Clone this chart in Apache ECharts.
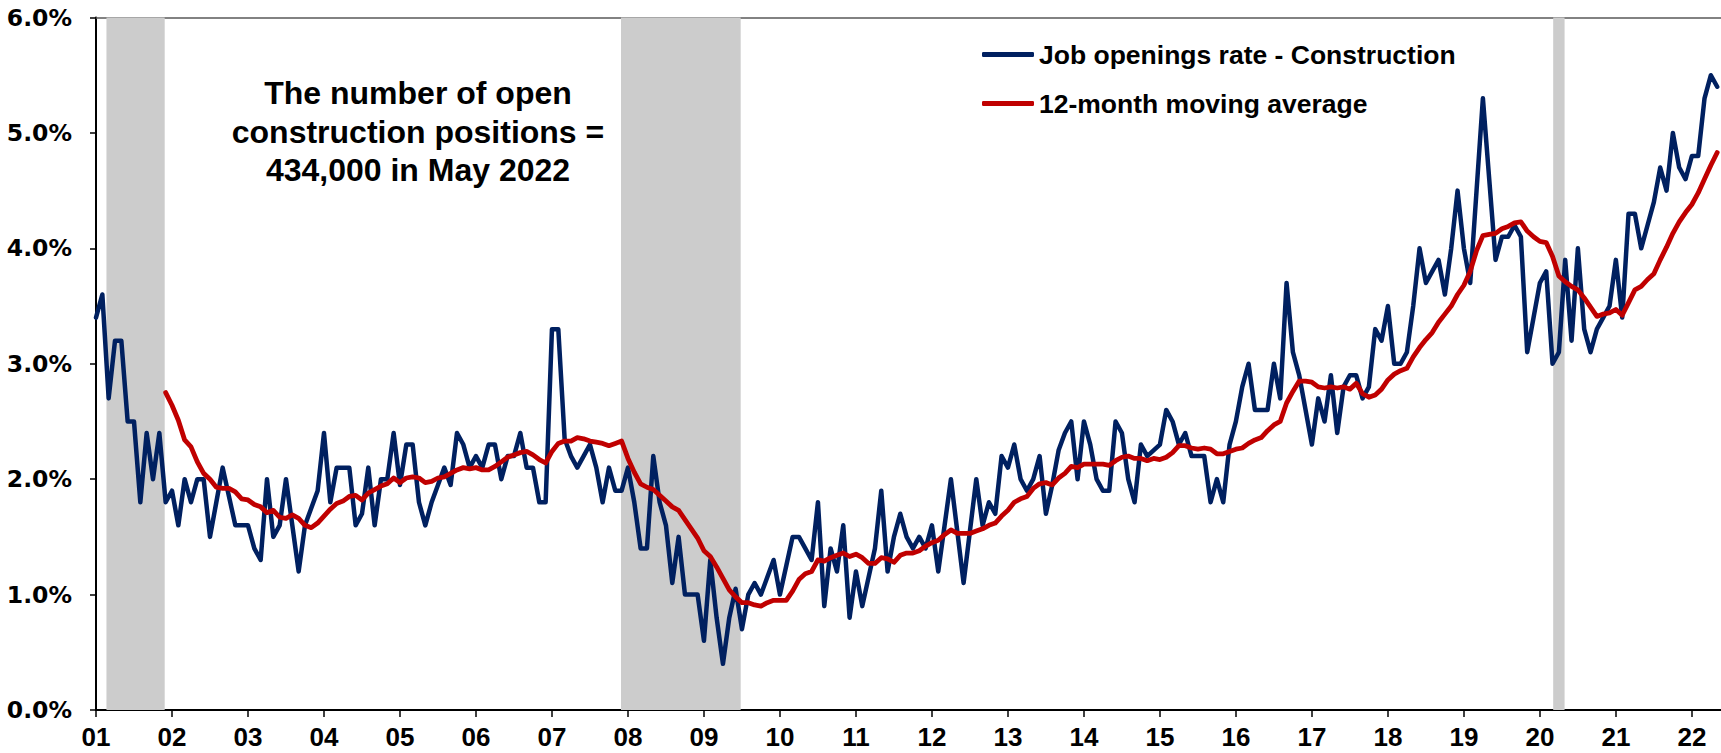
<!DOCTYPE html>
<html>
<head>
<meta charset="utf-8">
<script src="https://cdn.jsdelivr.net/npm/echarts@6/dist/echarts.min.js"></script>
<style>
  html, body { margin: 0; padding: 0; background: #ffffff; }
  #chart { width: 1721px; height: 753px; }
</style>
</head>
<body>
<div id="chart"></div>
<script>
// Year tick labels (one per January, starting Jan 2001 = month index 0)
const yearLabels = ['01','02','03','04','05','06','07','08','09','10','11','12','13','14','15','16','17','18','19','20','21','22'];

// Job openings rate - Construction (%), monthly Jan 2001 .. May 2022
const jobOpenings = [
  3.4, 3.6, 2.7, 3.2, 3.2, 2.5, 2.5, 1.8, 2.4, 2.0, 2.4, 1.8,          // 2001
  1.9, 1.6, 2.0, 1.8, 2.0, 2.0, 1.5, 1.8, 2.1, 1.85, 1.6, 1.6,        // 2002
  1.6, 1.4, 1.3, 2.0, 1.5, 1.6, 2.0, 1.6, 1.2, 1.6, 1.75, 1.9,        // 2003
  2.4, 1.8, 2.1, 2.1, 2.1, 1.6, 1.7, 2.1, 1.6, 2.0, 2.0, 2.4,         // 2004
  1.95, 2.3, 2.3, 1.8, 1.6, 1.8, 1.95, 2.1, 1.95, 2.4, 2.3, 2.1,      // 2005
  2.2, 2.1, 2.3, 2.3, 2.0, 2.2, 2.2, 2.4, 2.1, 2.1, 1.8, 1.8,         // 2006
  3.3, 3.3, 2.35, 2.2, 2.1, 2.2, 2.3, 2.1, 1.8, 2.1, 1.9, 1.9,        // 2007
  2.1, 1.8, 1.4, 1.4, 2.2, 1.8, 1.6, 1.1, 1.5, 1.0, 1.0, 1.0,         // 2008
  0.6, 1.3, 0.8, 0.4, 0.8, 1.05, 0.7, 1.0, 1.1, 1.0, 1.15, 1.3,       // 2009
  1.0, 1.25, 1.5, 1.5, 1.4, 1.3, 1.8, 0.9, 1.4, 1.2, 1.6, 0.8,        // 2010
  1.2, 0.9, 1.15, 1.4, 1.9, 1.2, 1.5, 1.7, 1.5, 1.4, 1.5, 1.4,        // 2011
  1.6, 1.2, 1.6, 2.0, 1.55, 1.1, 1.55, 2.0, 1.6, 1.8, 1.7, 2.2,       // 2012
  2.1, 2.3, 2.0, 1.9, 2.0, 2.2, 1.7, 1.95, 2.25, 2.4, 2.5, 2.0,       // 2013
  2.5, 2.3, 2.0, 1.9, 1.9, 2.5, 2.4, 2.0, 1.8, 2.3, 2.2, 2.25,        // 2014
  2.3, 2.6, 2.5, 2.3, 2.4, 2.2, 2.2, 2.2, 1.8, 2.0, 1.8, 2.3,         // 2015
  2.5, 2.8, 3.0, 2.6, 2.6, 2.6, 3.0, 2.7, 3.7, 3.1, 2.9, 2.6,         // 2016
  2.3, 2.7, 2.5, 2.9, 2.4, 2.8, 2.9, 2.9, 2.7, 2.8, 3.3, 3.2,         // 2017
  3.5, 3.0, 3.0, 3.1, 3.5, 4.0, 3.7, 3.8, 3.9, 3.6, 4.0, 4.5,         // 2018
  4.0, 3.7, 4.5, 5.3, 4.6, 3.9, 4.1, 4.1, 4.2, 4.1, 3.1, 3.4,         // 2019
  3.7, 3.8, 3.0, 3.1, 3.9, 3.2, 4.0, 3.3, 3.1, 3.3, 3.4, 3.5,         // 2020
  3.9, 3.4, 4.3, 4.3, 4.0, 4.2, 4.4, 4.7, 4.5, 5.0, 4.7, 4.6,         // 2021
  4.8, 4.8, 5.3, 5.5, 5.4                                             // 2022
];

// 12-month moving average (%); starts Dec 2001
const movingAvg = [
  null, null, null, null, null, null, null, null, null, null, null, 2.75,
  2.64, 2.51, 2.34, 2.28, 2.15, 2.05, 2.0, 1.93, 1.92, 1.92, 1.89, 1.83,
  1.82, 1.78, 1.76, 1.71, 1.73, 1.67, 1.66, 1.69, 1.66, 1.60, 1.58, 1.62,
  1.68, 1.74, 1.79, 1.81, 1.85, 1.86, 1.82, 1.88, 1.91, 1.94, 1.96, 2.01,
  1.97, 2.01, 2.02, 2.01, 1.97, 1.98, 2.01, 2.02, 2.05, 2.08, 2.10, 2.09,
  2.10, 2.08, 2.08, 2.11, 2.15, 2.19, 2.21, 2.23, 2.24, 2.21, 2.17, 2.14,
  2.24, 2.31, 2.33, 2.33, 2.36, 2.35, 2.33, 2.32, 2.31, 2.29, 2.31, 2.33,
  2.18, 2.06, 1.96, 1.93, 1.91, 1.86, 1.81, 1.76, 1.73, 1.65, 1.57, 1.49,
  1.38, 1.33, 1.24, 1.14, 1.04, 0.98, 0.93, 0.93, 0.91, 0.90, 0.93, 0.95,
  0.95, 0.95, 1.03, 1.13, 1.18, 1.20, 1.30, 1.29, 1.32, 1.34, 1.36, 1.33,
  1.35, 1.32, 1.27, 1.27, 1.32, 1.31, 1.28, 1.34, 1.36, 1.36, 1.38, 1.42,
  1.45, 1.47, 1.52, 1.56, 1.53, 1.53, 1.53, 1.55, 1.57, 1.60, 1.62, 1.68,
  1.73, 1.80, 1.83, 1.85, 1.92, 1.96, 1.97, 1.95, 2.01, 2.05, 2.11, 2.10,
  2.13, 2.13, 2.13, 2.13, 2.12, 2.16, 2.19, 2.20, 2.18, 2.18, 2.16, 2.18,
  2.17, 2.19, 2.23, 2.29, 2.29, 2.27, 2.26, 2.27, 2.26, 2.22, 2.22, 2.24,
  2.26, 2.27, 2.31, 2.34, 2.36, 2.42, 2.47, 2.50, 2.66, 2.76, 2.85, 2.85,
  2.84, 2.80, 2.79, 2.80, 2.79, 2.80, 2.78, 2.83, 2.74, 2.71, 2.73, 2.78,
  2.86, 2.91, 2.94, 2.96, 3.06, 3.14, 3.21, 3.27, 3.36, 3.43, 3.50, 3.60,
  3.68, 3.80, 3.98, 4.11, 4.12, 4.13, 4.17, 4.19, 4.22, 4.23, 4.15, 4.10,
  4.06, 4.05, 3.93, 3.76, 3.71, 3.67, 3.64, 3.57, 3.49, 3.41, 3.43, 3.44,
  3.47, 3.42, 3.53, 3.64, 3.67, 3.73, 3.78, 3.90, 4.01, 4.13, 4.23, 4.31,
  4.38, 4.48, 4.60, 4.72, 4.83
];

// Recession periods (start, end) in month index from Jan 2001
const recessions = [[1.65, 10.85], [82.9, 101.8], [230.1, 231.9]];

const seriesNames = ['Job openings rate - Construction', '12-month moving average'];
const annotation = ['The number of open', 'construction positions =', '434,000 in May 2022'];

const blueData = jobOpenings.map((v, i) => [i, v]);
const redData = movingAvg.map((v, i) => [i, v]);

const chart = echarts.init(document.getElementById('chart'), null, { renderer: 'svg' });

const axisFont = 'Liberation Sans Narrow';
const option = {
  animation: false,
  backgroundColor: '#ffffff',
  grid: { left: 96, right: 0, top: 17.5, bottom: 43, containLabel: false },
  legend: {
    orient: 'vertical',
    left: 982,
    top: 40,
    padding: 0,
    itemGap: 20,
    itemWidth: 52,
    itemHeight: 5,
    icon: 'roundRect',
    data: seriesNames,
    textStyle: {
      fontFamily: 'Liberation Sans, Arial, sans-serif',
      fontWeight: 'bold',
      fontSize: 26.5,
      lineHeight: 29,
      color: '#000000'
    }
  },
  xAxis: [
    {
      type: 'value',
      min: 0,
      max: 256.6,
      interval: 12,
      position: 'bottom',
      axisLine: { show: true, onZero: false, lineStyle: { color: '#000000', width: 2 } },
      axisTick: { show: true, inside: false, length: 7, lineStyle: { color: '#000000', width: 1.5 } },
      splitLine: { show: false },
      axisLabel: {
        margin: 14,
        fontFamily: axisFont + ', Arial Narrow, Arial, sans-serif',
        fontWeight: 'bold',
        fontSize: 26,
        color: '#000000',
        showMaxLabel: false,
        formatter: function (v) {
          if (v % 12 !== 0) return '';
          const lbl = yearLabels[v / 12];
          return lbl === undefined ? '' : lbl;
        }
      }
    },
    {
      type: 'value',
      min: 0,
      max: 256.6,
      position: 'top',
      axisLine: { show: true, onZero: false, lineStyle: { color: '#595959', width: 1.5 } },
      axisTick: { show: false },
      axisLabel: { show: false },
      splitLine: { show: false }
    }
  ],
  yAxis: {
    type: 'value',
    min: 0,
    max: 6,
    interval: 1,
    axisLine: { show: true, onZero: false, lineStyle: { color: '#000000', width: 2 } },
    axisTick: { show: true, inside: false, length: 6, lineStyle: { color: '#000000', width: 1.5 } },
    splitLine: { show: false },
    axisLabel: {
      margin: 24,
      fontFamily: 'DejaVu Sans, Verdana, sans-serif',
      fontWeight: 'bold',
      fontSize: 23.5,
      color: '#000000',
      formatter: function (v) { return v.toFixed(1) + '%'; }
    }
  },
  graphic: [
    {
      type: 'text',
      x: 418,
      y: 74,
      z: 10,
      style: {
        text: annotation.join('\n'),
        align: 'center',
        verticalAlign: 'top',
        lineHeight: 38.5,
        font: 'bold 32px "Liberation Sans", Arial, sans-serif',
        fill: '#000000'
      }
    }
  ],
  series: [
    {
      name: 'recessions',
      type: 'line',
      data: [],
      z: 0,
      silent: true,
      markArea: {
        silent: true,
        itemStyle: { color: '#cccccc' },
        data: recessions.map(r => [{ xAxis: r[0] }, { xAxis: r[1] }])
      }
    },
    {
      name: seriesNames[0],
      type: 'line',
      data: blueData,
      symbol: 'none',
      z: 3,
      color: '#002060',
      lineStyle: { color: '#002060', width: 4.5, join: 'round', cap: 'round' }
    },
    {
      name: seriesNames[1],
      type: 'line',
      data: redData,
      symbol: 'none',
      z: 4,
      connectNulls: false,
      color: '#c00000',
      lineStyle: { color: '#c00000', width: 4.8, join: 'round', cap: 'round' }
    }
  ]
};
chart.setOption(option);
</script>
</body>
</html>
